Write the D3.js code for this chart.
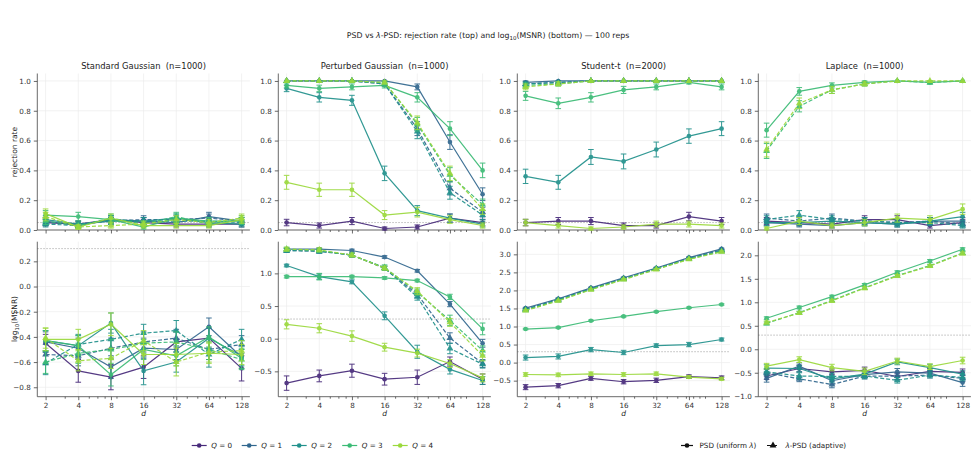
<!DOCTYPE html>
<html><head><meta charset="utf-8">
<script src="https://cdn.jsdelivr.net/npm/d3@7"></script>
<style>body{margin:0;background:#fff} svg{font-family:"DejaVu Sans",sans-serif}</style>
</head><body><svg id="c" width="976" height="472"></svg>
<script>
// ---------------- DATA ----------------
const dims = [2, 4, 8, 16, 32, 64, 128];
const qLabels = ["0", "1", "2", "3", "4"];
const panelTitles = ["Standard Gaussian  (n=1000)", "Perturbed Gaussian  (n=1000)", "Student-t  (n=2000)", "Laplace  (n=1000)"];
const reps = 100;
const alpha = 0.05;
const msnrRef = Math.log10(2);

// rejection rate — PSD (uniform λ), rows Q=0..4
const rejStdPSD = [
  [0.05,0.04,0.07,0.05,0.04,0.04,0.04],
  [0.06,0.03,0.07,0.06,0.05,0.09,0.06],
  [0.07,0.04,0.06,0.06,0.08,0.05,0.04],
  [0.10,0.09,0.07,0.02,0.08,0.06,0.06],
  [0.11,0.02,0.08,0.03,0.03,0.03,0.07]];
const rejStdLam = [null,
  [0.05,0.04,0.06,0.07,0.07,0.08,0.06],
  [0.04,0.03,0.07,0.06,0.06,0.06,0.05],
  [0.06,0.03,0.08,0.04,0.09,0.04,0.07],
  [0.09,0.02,0.03,0.04,0.07,0.05,0.08]];
const rejPertPSD = [
  [0.05,0.03,0.06,0.01,0.02,0.08,0.05],
  [1.00,1.00,1.00,1.00,0.96,0.59,0.24],
  [0.95,0.89,0.87,0.38,0.13,0.08,0.04],
  [0.97,0.95,0.96,0.97,0.89,0.68,0.40],
  [0.32,0.27,0.27,0.10,0.12,0.07,0.03]];
const rejPertLam = [null,
  [1.00,1.00,1.00,0.98,0.68,0.28,0.12],
  [1.00,1.00,1.00,0.98,0.66,0.25,0.10],
  [1.00,1.00,1.00,0.99,0.71,0.37,0.17],
  [1.00,1.00,1.00,0.99,0.72,0.38,0.14]];
const rejStuPSD = [
  [0.05,0.06,0.06,0.03,0.03,0.09,0.06],
  [0.99,1.00,1.00,1.00,1.00,1.00,1.00],
  [0.36,0.32,0.49,0.46,0.54,0.63,0.68],
  [0.90,0.85,0.89,0.94,0.96,0.99,0.96],
  [0.05,0.03,0.01,0.02,0.04,0.04,0.03]];
const rejStuLam = [null,
  [0.98,0.99,1.00,1.00,1.00,1.00,1.00],
  [0.98,0.99,1.00,1.00,1.00,1.00,1.00],
  [0.97,0.98,1.00,1.00,1.00,1.00,1.00],
  [0.96,0.98,1.00,1.00,1.00,1.00,1.00]];
const rejLapPSD = [
  [0.06,0.05,0.04,0.07,0.07,0.03,0.05],
  [0.05,0.04,0.03,0.05,0.04,0.06,0.06],
  [0.05,0.05,0.06,0.05,0.04,0.06,0.09],
  [0.67,0.93,0.97,0.99,1.00,0.99,1.00],
  [0.01,0.06,0.03,0.05,0.08,0.07,0.14]];
const rejLapLam = [null,
  [0.08,0.06,0.08,0.06,0.05,0.06,0.04],
  [0.07,0.10,0.07,0.06,0.05,0.05,0.03],
  [0.53,0.83,0.94,0.98,1.00,0.99,1.00],
  [0.54,0.85,0.94,0.98,1.00,1.00,1.00]];

// log10(MSNR) — means
const msnrStdPSD = [
  [-0.45,-0.67,-0.72,-0.64,-0.44,-0.41,-0.65],
  [-0.44,-0.49,-0.64,-0.49,-0.50,-0.32,-0.56],
  [-0.43,-0.47,-0.29,-0.67,-0.60,-0.41,-0.55],
  [-0.43,-0.47,-0.70,-0.50,-0.55,-0.40,-0.57],
  [-0.42,-0.42,-0.30,-0.54,-0.54,-0.53,-0.54]];
const msnrStdLam = [null,
  [-0.54,-0.55,-0.49,-0.44,-0.41,-0.50,-0.46],
  [-0.61,-0.46,-0.42,-0.37,-0.35,-0.54,-0.42],
  [-0.60,-0.53,-0.50,-0.45,-0.44,-0.50,-0.58],
  [-0.41,-0.59,-0.57,-0.43,-0.60,-0.52,-0.51]];
const msnrPertPSD = [
  [-0.68,-0.57,-0.49,-0.62,-0.59,-0.35,-0.62],
  [1.37,1.37,1.35,1.25,1.04,0.53,-0.07],
  [1.12,0.95,0.87,0.35,-0.20,-0.47,-0.64],
  [0.95,0.95,0.95,0.93,0.89,0.64,0.15],
  [0.22,0.16,0.04,-0.13,-0.22,-0.38,-0.60]];
const msnrPertLam = [null,
  [1.35,1.34,1.28,1.08,0.68,0.01,-0.38],
  [1.35,1.34,1.28,1.08,0.64,-0.15,-0.39],
  [1.37,1.35,1.28,1.09,0.71,0.28,-0.18],
  [1.37,1.36,1.28,1.08,0.73,0.25,-0.26]];
const msnrStuPSD = [
  [-0.68,-0.64,-0.44,-0.53,-0.49,-0.39,-0.42],
  [1.51,1.77,2.07,2.35,2.62,2.91,3.15],
  [0.14,0.17,0.36,0.28,0.47,0.50,0.64],
  [0.93,0.97,1.16,1.28,1.41,1.52,1.61],
  [-0.33,-0.34,-0.31,-0.33,-0.31,-0.40,-0.45]];
const msnrStuLam = [null,
  [1.48,1.75,2.05,2.33,2.60,2.89,3.12],
  [1.47,1.74,2.04,2.32,2.60,2.88,3.10],
  [1.45,1.72,2.03,2.31,2.59,2.87,3.08],
  [1.44,1.71,2.02,2.30,2.58,2.86,3.07]];
const msnrLapPSD = [
  [-0.57,-0.41,-0.48,-0.45,-0.58,-0.47,-0.49],
  [-0.62,-0.36,-0.67,-0.54,-0.48,-0.51,-0.71],
  [-0.40,-0.41,-0.63,-0.53,-0.27,-0.39,-0.53],
  [0.66,0.89,1.12,1.37,1.64,1.88,2.13],
  [-0.36,-0.22,-0.39,-0.47,-0.25,-0.37,-0.24]];
const msnrLapLam = [null,
  [-0.50,-0.63,-0.75,-0.57,-0.57,-0.55,-0.62],
  [-0.48,-0.57,-0.58,-0.57,-0.66,-0.55,-0.60],
  [0.55,0.78,1.04,1.31,1.57,1.78,2.05],
  [0.57,0.77,1.03,1.30,1.56,1.77,2.04]];

// log10(MSNR) — standard errors
const seStdPSD = [
  [0.07,0.09,0.10,0.09,0.08,0.08,0.10],
  [0.08,0.08,0.09,0.08,0.08,0.07,0.09],
  [0.08,0.08,0.08,0.11,0.08,0.08,0.08],
  [0.08,0.08,0.09,0.08,0.08,0.08,0.08],
  [0.09,0.08,0.09,0.08,0.09,0.08,0.08]];
const seStdLam = [null,
  [0.08,0.08,0.08,0.08,0.07,0.08,0.07],
  [0.09,0.08,0.08,0.07,0.08,0.10,0.08],
  [0.09,0.08,0.08,0.08,0.08,0.08,0.08],
  [0.08,0.08,0.08,0.08,0.11,0.08,0.08]];
const sePertPSD = [
  [0.11,0.09,0.10,0.09,0.11,0.07,0.08],
  [0.02,0.02,0.02,0.02,0.02,0.04,0.06],
  [0.02,0.04,0.03,0.06,0.10,0.07,0.06],
  [0.02,0.05,0.02,0.02,0.02,0.04,0.09],
  [0.07,0.07,0.08,0.06,0.06,0.06,0.06]];
const sePertLam = [null,
  [0.03,0.03,0.03,0.03,0.05,0.08,0.06],
  [0.03,0.03,0.03,0.03,0.05,0.08,0.06],
  [0.03,0.03,0.03,0.04,0.05,0.08,0.07],
  [0.03,0.03,0.03,0.03,0.05,0.06,0.08]];
const seStuPSD = [
  [0.07,0.06,0.05,0.06,0.06,0.05,0.05],
  [0.02,0.02,0.02,0.02,0.02,0.02,0.02],
  [0.07,0.07,0.06,0.06,0.05,0.06,0.04],
  [0.02,0.02,0.02,0.02,0.02,0.02,0.02],
  [0.05,0.05,0.05,0.05,0.05,0.04,0.04]];
const seStuLam = [null,
  [0.02,0.02,0.02,0.02,0.02,0.02,0.02],
  [0.02,0.02,0.02,0.02,0.02,0.02,0.02],
  [0.02,0.02,0.02,0.02,0.02,0.02,0.02],
  [0.02,0.02,0.02,0.02,0.02,0.02,0.02]];
const seLapPSD = [
  [0.07,0.07,0.06,0.07,0.07,0.06,0.07],
  [0.08,0.07,0.07,0.07,0.07,0.06,0.08],
  [0.07,0.07,0.07,0.07,0.06,0.07,0.07],
  [0.03,0.03,0.03,0.03,0.03,0.03,0.03],
  [0.06,0.06,0.07,0.07,0.06,0.06,0.07]];
const seLapLam = [null,
  [0.07,0.06,0.07,0.06,0.07,0.06,0.07],
  [0.07,0.07,0.07,0.06,0.06,0.06,0.07],
  [0.03,0.03,0.03,0.03,0.03,0.03,0.03],
  [0.03,0.03,0.03,0.03,0.03,0.03,0.03]];

const bottomTicks = [
  [-0.8,-0.6,-0.4,-0.2,0.0,0.2],
  [-0.5,0.0,0.5,1.0],
  [-0.5,0.0,0.5,1.0,1.5,2.0,2.5,3.0],
  [-1.0,-0.5,0.0,0.5,1.0,1.5,2.0]];
const bottomDomains = [[-0.875,0.356],[-0.888,1.485],[-0.945,3.35],[-1.01,2.29]];
const topTicks = [0.0,0.2,0.4,0.6,0.8,1.0];
const minorTicks = [3,5,6,7,9,20,30,40,50,60,70,80,90];

// ---------------- LAYOUT ----------------
const colors = [0.12, 0.33, 0.5, 0.68, 0.85].map(t => d3.interpolateViridis(t));
const panelLeft = [37.3, 278.3, 517.3, 758.3];
const panelW = 212.6;
const topRow = {y0: 230, y1: 73.5};
const botRow = {y0: 396.7, y1: 241.7};
const svg = d3.select("#c");
const axisColor = "#444", gridColor = "#ececec", textColor = "#333";
const fmt = d3.format(".1f");

svg.append("text").attr("x", 488).attr("y", 38).attr("text-anchor", "middle")
  .attr("font-size", 7.8).attr("fill", "#222")
  .call(t => {
    t.append("tspan").text("PSD vs ");
    t.append("tspan").attr("font-style", "italic").text("λ");
    t.append("tspan").text("-PSD: rejection rate (top) and log");
    t.append("tspan").attr("font-size", 5.5).attr("dy", 1.8).text("10");
    t.append("tspan").attr("dy", -1.8).text("(MSNR) (bottom) — 100 reps");
  });

const rejData = [[rejStdPSD, rejStdLam],[rejPertPSD, rejPertLam],[rejStuPSD, rejStuLam],[rejLapPSD, rejLapLam]];
const msnrData = [[msnrStdPSD, msnrStdLam, seStdPSD, seStdLam],[msnrPertPSD, msnrPertLam, sePertPSD, sePertLam],
                  [msnrStuPSD, msnrStuLam, seStuPSD, seStuLam],[msnrLapPSD, msnrLapLam, seLapPSD, seLapLam]];

function drawSeries(g, X, Y, vals, errs, color, dashed) {
  const pts = dims.map((d, i) => ({d, v: vals[i], e: errs[i]}));
  const s = g.append("g").attr("opacity", 0.92);
  s.append("path").datum(pts)
    .attr("d", d3.line().x(p => X(p.d)).y(p => Y(p.v)))
    .attr("fill", "none").attr("stroke", color).attr("stroke-width", 1.2)
    .attr("stroke-dasharray", dashed ? "4,2" : null);
  const eb = s.selectAll(null).data(pts.filter(p => p.e > 0)).enter().append("g");
  eb.append("line").attr("x1", p => X(p.d)).attr("x2", p => X(p.d))
    .attr("y1", p => Y(p.v - p.e)).attr("y2", p => Y(p.v + p.e))
    .attr("stroke", color).attr("stroke-width", 1);
  [-1, 1].forEach(sg => {
    eb.append("line").attr("x1", p => X(p.d) - 2.8).attr("x2", p => X(p.d) + 2.8)
      .attr("y1", p => Y(p.v + sg * p.e)).attr("y2", p => Y(p.v + sg * p.e))
      .attr("stroke", color).attr("stroke-width", 1);
  });
  const sym = d3.symbol().type(dashed ? d3.symbolTriangle : d3.symbolCircle).size(dashed ? 20 : 17);
  s.selectAll(null).data(pts).enter().append("path")
    .attr("d", sym).attr("transform", p => `translate(${X(p.d)},${Y(p.v)})`)
    .attr("fill", color);
}

function drawAxes(g, X, Y, L, row, yTicks, showXLabels, refVal) {
  const R = L + panelW;
  g.selectAll(null).data(dims).enter().append("line")
    .attr("x1", d => X(d)).attr("x2", d => X(d)).attr("y1", row.y0).attr("y2", row.y1)
    .attr("stroke", gridColor).attr("stroke-width", 0.7);
  g.selectAll(null).data(yTicks).enter().append("line")
    .attr("x1", L).attr("x2", R).attr("y1", v => Y(v)).attr("y2", v => Y(v))
    .attr("stroke", gridColor).attr("stroke-width", 0.7);
  g.append("line").attr("x1", L).attr("x2", R).attr("y1", Y(refVal)).attr("y2", Y(refVal))
    .attr("stroke", "#aaa").attr("stroke-width", 0.8).attr("stroke-dasharray", "1.5,1.5");
  const ya = g.append("g").attr("transform", `translate(${L},0)`)
    .call(d3.axisLeft(Y).tickValues(yTicks).tickFormat(fmt).tickSize(3.5).tickPadding(3));
  const xa = g.append("g").attr("transform", `translate(0,${row.y0})`)
    .call(d3.axisBottom(X).tickValues(dims).tickFormat(showXLabels ? d3.format("d") : () => "").tickSize(3.5).tickPadding(3));
  g.append("g").attr("transform", `translate(0,${row.y0})`)
    .call(d3.axisBottom(X).tickValues(minorTicks).tickFormat(() => "").tickSize(2))
    .call(a => a.select(".domain").remove());
  [ya, xa].forEach(a => {
    a.select(".domain").remove();
    a.selectAll("line").attr("stroke", axisColor).attr("stroke-width", 0.8);
    a.selectAll("text").attr("fill", textColor).attr("font-size", 7.2).attr("font-family", "DejaVu Sans");
  });
  g.selectAll(".tick line").attr("stroke", axisColor).attr("stroke-width", 0.8);
  g.append("line").attr("x1", L).attr("x2", L).attr("y1", row.y0).attr("y2", row.y1)
    .attr("stroke", axisColor).attr("stroke-width", 0.8);
  g.append("line").attr("x1", L).attr("x2", R).attr("y1", row.y0).attr("y2", row.y0)
    .attr("stroke", axisColor).attr("stroke-width", 0.8);
}

panelLeft.forEach((L, pi) => {
  const X = d3.scaleLog().base(2).domain([2, 128]).range([L + 8.3, L + 204.3]);
  const Yt = d3.scaleLinear().domain([0, 1.05]).range([topRow.y0, topRow.y1]);
  const gt = svg.append("g");
  drawAxes(gt, X, Yt, L, topRow, topTicks, false, alpha);
  const [psd, lam] = rejData[pi];
  qLabels.forEach((q, qi) => {
    const se = v => Math.sqrt(v * (1 - v) / reps);
    drawSeries(gt, X, Yt, psd[qi], psd[qi].map(se), colors[qi], false);
    if (lam[qi]) drawSeries(gt, X, Yt, lam[qi], lam[qi].map(se), colors[qi], true);
  });
  svg.append("text").attr("x", L + panelW / 2).attr("y", 69).attr("text-anchor", "middle")
    .attr("font-size", 8.4).attr("fill", "#222").style("white-space", "pre").text(panelTitles[pi]);

  const Yb = d3.scaleLinear().domain(bottomDomains[pi]).range([botRow.y0, botRow.y1]);
  const gb = svg.append("g");
  drawAxes(gb, X, Yb, L, botRow, bottomTicks[pi], true, msnrRef);
  const [m1, m2, e1, e2] = msnrData[pi];
  qLabels.forEach((q, qi) => {
    drawSeries(gb, X, Yb, m1[qi], e1[qi], colors[qi], false);
    if (m2[qi]) drawSeries(gb, X, Yb, m2[qi], e2[qi], colors[qi], true);
  });
  svg.append("text").attr("x", L + 8.3 + 98).attr("y", 416).attr("text-anchor", "middle")
    .attr("font-size", 7.5).attr("font-style", "italic").attr("fill", "#222").text("d");
});

svg.append("text").attr("transform", "translate(17,152) rotate(-90)").attr("text-anchor", "middle")
  .attr("font-size", 7.5).attr("fill", "#222").text("rejection rate");
svg.append("text").attr("transform", "translate(17,319) rotate(-90)").attr("text-anchor", "middle")
  .attr("font-size", 7.5).attr("fill", "#222")
  .call(t => {
    t.append("tspan").text("log");
    t.append("tspan").attr("font-size", 5.3).attr("dy", 1.8).text("10");
    t.append("tspan").attr("dy", -1.8).text("(MSNR)");
  });

const legQ = svg.append("g");
const qLegX = [191.7, 241.7, 291.7, 342.2, 392.7];
qLabels.forEach((q, qi) => {
  const x = qLegX[qi], y = 445.5;
  legQ.append("line").attr("x1", x).attr("x2", x + 15).attr("y1", y).attr("y2", y)
    .attr("stroke", colors[qi]).attr("stroke-width", 1.2);
  legQ.append("circle").attr("cx", x + 7.5).attr("cy", y).attr("r", 2.3).attr("fill", colors[qi]);
  legQ.append("text").attr("x", x + 19.5).attr("y", y + 2.6).attr("font-size", 7.2).attr("fill", "#222")
    .call(t => {
      t.append("tspan").attr("font-style", "italic").text("Q");
      t.append("tspan").text(" = " + q);
    });
});
const legM = svg.append("g");
[["PSD (uniform ", ")", false, 681], ["", "-PSD (adaptive)", true, 767]].forEach(([a, b, dashed, x]) => {
  const y = 445.5;
  legM.append("line").attr("x1", x).attr("x2", x + 12).attr("y1", y).attr("y2", y)
    .attr("stroke", "#111").attr("stroke-width", 1.2).attr("stroke-dasharray", dashed ? "4,2" : null);
  legM.append("path").attr("d", d3.symbol().type(dashed ? d3.symbolTriangle : d3.symbolCircle).size(dashed ? 20 : 17))
    .attr("transform", `translate(${x + 6},${y})`).attr("fill", "#111");
  legM.append("text").attr("x", x + 18.5).attr("y", y + 2.6).attr("font-size", 7.2).attr("fill", "#222")
    .call(t => {
      if (a) t.append("tspan").text(a);
      t.append("tspan").attr("font-style", "italic").text("λ");
      t.append("tspan").text(b);
    });
});
</script></body></html>
